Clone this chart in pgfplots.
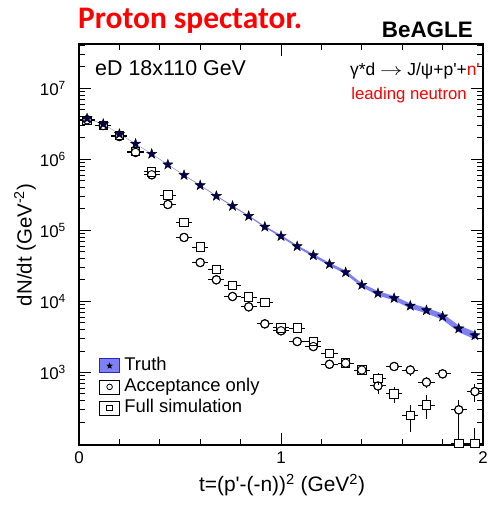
\documentclass[border=0pt]{standalone}
\usepackage{fontspec}
\setmainfont{Liberation Sans}
\newfontfamily\calib{Carlito}
\usepackage{graphicx}
\usepackage{pgfplots}
\pgfplotsset{compat=1.18}
\usepackage{pgfplotstable}

\definecolor{bandc}{RGB}{128,128,245}
\definecolor{bandb}{RGB}{40,40,190}
\definecolor{starc}{RGB}{0,0,90}

\pgfdeclareplotmark{fstar}{%
  \pgfpathmoveto{\pgfpointpolar{90}{\pgfplotmarksize}}%
  \pgfpathlineto{\pgfpointpolar{126}{0.4\pgfplotmarksize}}%
  \pgfpathlineto{\pgfpointpolar{162}{\pgfplotmarksize}}%
  \pgfpathlineto{\pgfpointpolar{198}{0.4\pgfplotmarksize}}%
  \pgfpathlineto{\pgfpointpolar{234}{\pgfplotmarksize}}%
  \pgfpathlineto{\pgfpointpolar{270}{0.4\pgfplotmarksize}}%
  \pgfpathlineto{\pgfpointpolar{306}{\pgfplotmarksize}}%
  \pgfpathlineto{\pgfpointpolar{342}{0.4\pgfplotmarksize}}%
  \pgfpathlineto{\pgfpointpolar{18}{\pgfplotmarksize}}%
  \pgfpathlineto{\pgfpointpolar{54}{0.4\pgfplotmarksize}}%
  \pgfpathclose
  \pgfusepathqfillstroke}

\pgfplotstableread{
x y
0.04 3.76e6
0.12 3.14e6
0.20 2.27e6
0.28 1.65e6
0.36 1.19e6
0.44 8.42e5
0.52 5.99e5
0.60 4.30e5
0.68 3.04e5
0.76 2.20e5
0.84 1.59e5
0.92 1.12e5
1.00 8.28e4
1.08 5.95e4
1.16 4.44e4
1.24 3.34e4
1.32 2.56e4
1.40 1.70e4
1.48 1.30e4
1.56 1.11e4
1.64 8.65e3
1.72 7.47e3
1.80 6.11e3
1.88 4.14e3
1.96 3.32e3
}\truth

\pgfplotstableread{
x y e
0.04 3.60e6 2e4
0.12 2.99e6 2e4
0.20 2.09e6 2e4
0.28 1.25e6 1e4
0.36 6.05e5 6e3
0.44 2.31e5 3e3
0.52 7.93e4 1.5e3
0.60 3.52e4 900
0.68 2.01e4 600
0.76 1.17e4 450
0.84 8.37e3 380
0.92 4.82e3 300
1.00 3.85e3 260
1.08 2.72e3 220
1.16 2.31e3 200
1.24 1.30e3 200
1.32 1.35e3 180
1.40 1.08e3 170
1.48 645 150
1.56 1.21e3 180
1.64 1.08e3 200
1.72 728 130
1.80 953 110
1.88 297 113
1.96 537 150
}\acc

\pgfplotstableread{
x y e
0.04 3.50e6 2e4
0.12 2.99e6 2e4
0.20 2.16e6 2e4
0.28 1.29e6 1e4
0.36 6.67e5 6e3
0.44 3.14e5 3e3
0.52 1.30e5 2e3
0.60 5.80e4 1e3
0.68 2.82e4 700
0.76 1.67e4 500
0.84 1.15e4 400
0.92 9.63e3 350
1.00 4.24e3 260
1.08 4.20e3 250
1.16 2.72e3 220
1.24 1.86e3 200
1.32 1.35e3 180
1.40 1.08e3 170
1.48 828 160
1.56 498 130
1.64 247 100
1.72 348 125
1.88 100 80
1.96 100 66
}\full

\begin{document}
\begin{tikzpicture}
\path[use as bounding box] (-79bp,-61bp) rectangle (412bp,445bp);
\begin{axis}[
  at={(0,0)}, anchor=south west,
  scale only axis, width=404bp, height=401bp,
  ymode=log, xmin=0, xmax=2, ymin=95, ymax=4.2e7,
  xtick={0,1,2}, xticklabels={0,1,2},
  minor xtick={0.2,0.4,0.6,0.8,1.2,1.4,1.6,1.8},
  ytick={1e3,1e4,1e5,1e6,1e7},
  yticklabels={10\textsuperscript{3},10\textsuperscript{4},10\textsuperscript{5},10\textsuperscript{6},10\textsuperscript{7}},
  minor ytick={200,300,400,500,600,700,800,900,2000,3000,4000,5000,6000,7000,8000,9000,2e4,3e4,4e4,5e4,6e4,7e4,8e4,9e4,2e5,3e5,4e5,5e5,6e5,7e5,8e5,9e5,2e6,3e6,4e6,5e6,6e6,7e6,8e6,9e6,2e7,3e7,4e7},
  tick align=inside,
  major tick length=12bp, minor tick length=6bp,
  axis line style={line width=1.1bp},
  every tick/.style={black, line width=1bp},
  tick label style={font=\fontsize{17}{17}\selectfont},
  yticklabel style={inner sep=0pt, xshift=-13bp},
  xticklabel style={inner sep=0pt, yshift=-6.7bp},
  clip mode=individual,
  legend cell align=left,
  legend style={at={(rel axis cs:0.0495,0.2202)}, anchor=north west, draw=none, fill=none,
    inner sep=0pt, font=\fontsize{18.5}{18.5}\selectfont, row sep=3bp, column sep=4.3bp,
    nodes={inner sep=0pt, text height=14bp, text depth=4bp}},
]
\addlegendimage{legend image code/.code={
  \draw[fill=bandc, draw=bandb, line width=0.8bp] (0bp,-7bp) rectangle (20bp,7bp);
  \draw[black, fill=black, mark=fstar, mark size=3bp, line width=0.3bp] plot coordinates {(10bp,0bp)};}}
\addlegendentry{Truth}
\addlegendimage{legend image code/.code={
  \path (0bp,-7bp) rectangle (20bp,7bp);
  \draw[black, line width=0.8bp] (10bp,0bp) circle[radius=2.8bp];}}
\addlegendentry{Acceptance only}
\addlegendimage{legend image code/.code={
  \path (0bp,-7bp) rectangle (20bp,7bp);
  \draw[black, line width=0.8bp] (7.2bp,-2.8bp) rectangle (12.8bp,2.8bp);}}
\addlegendentry{Full simulation}

% truth band (upper edge ascending, lower edge descending)
\addplot[fill=bandc, draw=none, forget plot] coordinates {
(0.04,3.786e6) (0.12,3.162e6) (0.20,2.286e6) (0.28,1.662e6) (0.36,1.198e6)
(0.44,8.48e5) (0.52,6.05e5) (0.60,4.352e5) (0.68,3.086e5) (0.76,2.24e5)
(0.84,1.622e5) (0.92,1.148e5) (1.00,8.57e4) (1.08,6.16e4) (1.16,4.64e4)
(1.24,3.49e4) (1.32,2.71e4) (1.40,1.80e4) (1.48,1.391e4) (1.56,1.188e4)
(1.64,9.34e3) (1.72,8.14e3) (1.80,6.72e3) (1.88,4.595e3) (1.96,3.72e3)
(1.96,2.92e3) (1.88,3.685e3) (1.80,5.50e3) (1.72,6.80e3) (1.64,7.96e3)
(1.56,1.032e4) (1.48,1.209e4) (1.40,1.60e4) (1.32,2.41e4) (1.24,3.19e4)
(1.16,4.24e4) (1.08,5.74e4) (1.00,7.99e4) (0.92,1.092e5) (0.84,1.558e5)
(0.76,2.16e5) (0.68,2.994e5) (0.60,4.248e5) (0.52,5.93e5) (0.44,8.36e5)
(0.36,1.182e6) (0.28,1.638e6) (0.20,2.254e6) (0.12,3.118e6) (0.04,3.734e6)
} -- cycle;

% acceptance only (circles)
\addplot[black, only marks, mark=*, mark size=4.2bp, line width=0.9bp,
  mark options={fill=white, draw=black, solid}, forget plot,
  error bars/.cd, x dir=both, x fixed=0.04, y dir=both, y explicit, error mark=none,
  error bar style={line width=0.9bp, black}]
  table[x=x, y=y, y error=e] {\acc};

% full simulation (squares)
\addplot[black, only marks, mark=square*, mark size=4.2bp, line width=0.9bp,
  mark options={fill=white, draw=black, solid}, forget plot,
  error bars/.cd, x dir=both, x fixed=0.04, y dir=both, y explicit, error mark=none,
  error bar style={line width=0.9bp, black}]
  table[x=x, y=y, y error=e] {\full};

% circle outlines on top
\addplot[black, only marks, mark=o, mark size=4.2bp, line width=0.9bp, forget plot]
  table[x=x, y=y] {\acc};

% truth stars
\addplot[only marks, mark=fstar, mark size=5.3bp,
  mark options={fill=starc, draw=black, line width=0.4bp}, forget plot]
  table[x=x, y=y] {\truth};
\end{axis}

\node[anchor=base west, font=\calib\bfseries\fontsize{31.5}{31.5}\selectfont, text=red, inner sep=0pt] at (-1bp,416.7bp) {Proton spectator.};
\node[anchor=base east, font=\bfseries\fontsize{22.5}{22.5}\selectfont, inner sep=0pt] at (394bp,407.7bp) {BeAGLE};
\node[anchor=base west, font=\fontsize{21.5}{21.5}\selectfont, inner sep=0pt] at (16bp,369bp) {eD 18x110 GeV};
\node[anchor=base east, font=\fontsize{17.5}{17.5}\selectfont, inner sep=0pt] at (401bp,369bp) {γ*d \scalebox{1.3}[1]{$\rightarrow$} J/ψ+p\textquotesingle+\textcolor{red}{n\textquotesingle}};
\node[anchor=base east, font=\fontsize{16.8}{16.8}\selectfont, text=red, inner sep=0pt] at (388bp,345.7bp) {leading neutron};
\node[anchor=base, font=\fontsize{21}{21}\selectfont, inner sep=0pt] at (203bp,-46.7bp) {t=(p\textquotesingle-(-n))\textsuperscript{2} (GeV\textsuperscript{2})};
\node[rotate=90, anchor=base, font=\fontsize{20.5}{20.5}\selectfont, inner sep=0pt] at (-47.3bp,200bp) {dN/dt (GeV\textsuperscript{-2})};
\end{tikzpicture}
\end{document}
